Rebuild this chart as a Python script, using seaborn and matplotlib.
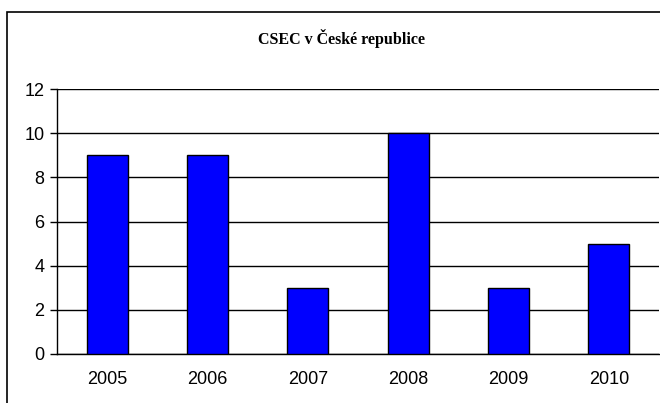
import numpy as np
import pandas as pd
import seaborn as sns
import matplotlib.pyplot as plt
from matplotlib.patches import Rectangle

# Chart data
years = ['2005', '2006', '2007', '2008', '2009', '2010']
counts = [9, 9, 3, 10, 3, 5]
yticks = [0, 2, 4, 6, 8, 10, 12]
title = 'CSEC v České republice'

df = pd.DataFrame({'Rok': years, 'Počet': counts})

sns.set_style('white')
plt.rcParams['font.family'] = ['Liberation Sans', 'DejaVu Sans']
plt.rcParams['text.color'] = 'black'
plt.rcParams['xtick.color'] = 'black'
plt.rcParams['ytick.color'] = 'black'

fig = plt.figure(figsize=(6.6, 4.03), dpi=100)
ax = fig.add_axes([57 / 660, 1 - 354 / 403, 602 / 660, 265 / 403])

sns.barplot(data=df, x='Rok', y='Počet', color='#0000FF', saturation=1,
            width=0.41, edgecolor='black', linewidth=1, ax=ax, zorder=3)

ax.set_xlim(-0.5, len(years) - 0.5)
ax.set_ylim(0, 12)
ax.set_yticks(yticks)
ax.grid(axis='y', color='black', linewidth=1, zorder=0)
ax.set_axisbelow(True)
ax.set_xlabel('')
ax.set_ylabel('')

for s in ['top', 'right']:
    ax.spines[s].set_visible(False)
for s in ['left', 'bottom']:
    ax.spines[s].set_color('black')
    ax.spines[s].set_linewidth(1)

# ticks on category boundaries, labels in the middle
ax.set_xticks(np.arange(-0.5, len(years), 1.0), minor=True)
ax.tick_params(axis='x', which='major', length=0, pad=12, labelsize=13, labelcolor='black')
ax.tick_params(axis='x', which='minor', length=4, width=1, color='black', direction='out')
ax.tick_params(axis='y', length=5, width=1, color='black', direction='out', pad=4, labelsize=13,
               labelcolor='black', left=True)

fig.text(341 / 660, 1 - 39 / 403, title, ha='center', va='center', fontsize=11.5,
         fontweight='bold', color='black', family=['Liberation Serif', 'DejaVu Serif'])

# outer frame of the chart area (cut at right and bottom)
fig.patches.append(Rectangle((7 / 660, -0.1), 1.2, 1.1 - 12 / 403, transform=fig.transFigure,
                             fill=False, edgecolor='black', linewidth=1.2))

fig.savefig('out.png', dpi=100)
